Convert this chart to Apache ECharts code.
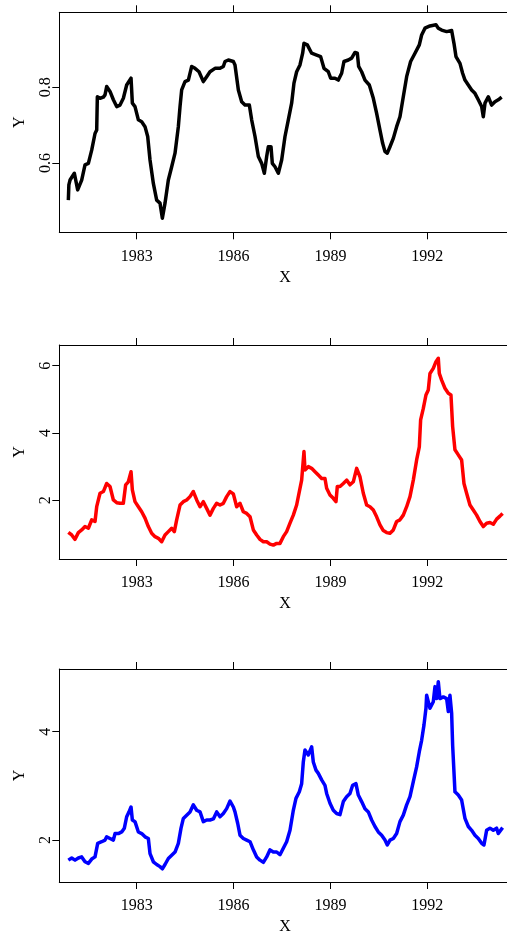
<!DOCTYPE html>
<html>
<head>
<meta charset="utf-8">
<script src="https://cdn.jsdelivr.net/npm/echarts@6/dist/echarts.min.js"></script>
<style>
html,body{margin:0;padding:0;background:#fff;overflow:hidden;}
#chart{width:540px;height:936px;}
</style>
</head>
<body>
<div id="chart"></div>
<script>
// ---- data ----
const xTicks = [1983, 1986, 1989, 1992];
const yTicks1 = [0.6, 0.8];
const yTicks2 = [2, 4, 6];
const yTicks3 = [2, 4];

const blackYears = [1980.884,1980.90,1980.936,1981.070,1981.173,1981.297,1981.400,1981.504,1981.607,1981.710,1981.762,1981.782,1981.865,1981.968,1982.020,1982.071,1982.174,1982.278,1982.381,1982.484,1982.587,1982.690,1982.825,1982.866,1982.948,1983.052,1983.155,1983.258,1983.341,1983.413,1983.516,1983.619,1983.722,1983.795,1983.877,1983.980,1984.084,1984.187,1984.290,1984.342,1984.393,1984.496,1984.600,1984.703,1984.806,1984.930,1985.064,1985.167,1985.270,1985.425,1985.580,1985.683,1985.735,1985.838,1985.993,1986.044,1986.148,1986.251,1986.354,1986.488,1986.560,1986.664,1986.767,1986.870,1986.953,1987.025,1987.076,1987.159,1987.200,1987.283,1987.386,1987.437,1987.489,1987.592,1987.695,1987.798,1987.870,1987.953,1988.056,1988.139,1988.180,1988.283,1988.417,1988.572,1988.696,1988.799,1988.933,1989.006,1989.140,1989.243,1989.346,1989.418,1989.553,1989.656,1989.759,1989.831,1989.873,1989.965,1990.069,1990.203,1990.327,1990.430,1990.533,1990.616,1990.688,1990.760,1990.843,1990.946,1991.049,1991.152,1991.255,1991.359,1991.482,1991.617,1991.751,1991.823,1991.926,1992.081,1992.267,1992.339,1992.442,1992.597,1992.752,1992.824,1992.886,1993.010,1993.092,1993.165,1993.268,1993.371,1993.474,1993.577,1993.681,1993.732,1993.784,1993.887,1993.990,1994.093,1994.196,1994.300];
const blackValues = [0.502,0.542,0.555,0.573,0.529,0.555,0.595,0.599,0.634,0.678,0.687,0.775,0.771,0.774,0.780,0.802,0.789,0.767,0.749,0.753,0.771,0.806,0.824,0.758,0.749,0.714,0.709,0.696,0.670,0.608,0.546,0.502,0.494,0.454,0.494,0.555,0.590,0.626,0.696,0.749,0.793,0.815,0.819,0.855,0.850,0.841,0.815,0.828,0.841,0.850,0.850,0.855,0.868,0.872,0.868,0.859,0.793,0.762,0.753,0.753,0.714,0.670,0.617,0.599,0.573,0.617,0.643,0.643,0.599,0.590,0.573,0.573,0.608,0.670,0.714,0.758,0.811,0.841,0.859,0.890,0.916,0.912,0.890,0.885,0.881,0.850,0.841,0.824,0.824,0.819,0.837,0.868,0.872,0.877,0.892,0.890,0.855,0.841,0.819,0.806,0.771,0.731,0.687,0.652,0.630,0.626,0.643,0.665,0.696,0.722,0.775,0.828,0.868,0.890,0.912,0.938,0.956,0.962,0.965,0.956,0.951,0.947,0.950,0.916,0.881,0.863,0.837,0.819,0.806,0.793,0.784,0.767,0.749,0.722,0.758,0.775,0.753,0.762,0.767,0.774];

const redYears = [1980.884,1980.988,1981.091,1981.194,1981.297,1981.400,1981.504,1981.607,1981.710,1981.762,1981.865,1981.968,1982.071,1982.174,1982.278,1982.381,1982.484,1982.587,1982.659,1982.742,1982.825,1982.866,1982.948,1983.052,1983.155,1983.258,1983.361,1983.464,1983.568,1983.671,1983.774,1983.877,1983.980,1984.084,1984.166,1984.238,1984.342,1984.445,1984.548,1984.651,1984.754,1984.858,1984.961,1985.064,1985.167,1985.270,1985.374,1985.477,1985.580,1985.683,1985.786,1985.890,1985.993,1986.096,1986.199,1986.302,1986.406,1986.509,1986.612,1986.715,1986.818,1986.922,1987.025,1987.128,1987.231,1987.334,1987.437,1987.540,1987.643,1987.747,1987.850,1987.953,1988.036,1988.108,1988.180,1988.211,1988.314,1988.417,1988.521,1988.624,1988.727,1988.830,1988.882,1988.985,1989.088,1989.171,1989.212,1989.295,1989.398,1989.501,1989.604,1989.707,1989.811,1989.914,1990.017,1990.120,1990.223,1990.327,1990.430,1990.533,1990.636,1990.739,1990.843,1990.946,1991.049,1991.152,1991.255,1991.359,1991.462,1991.565,1991.668,1991.751,1991.792,1991.875,1991.957,1992.029,1992.081,1992.184,1992.267,1992.339,1992.370,1992.442,1992.545,1992.649,1992.731,1992.783,1992.855,1992.958,1993.061,1993.134,1993.216,1993.319,1993.422,1993.526,1993.629,1993.732,1993.835,1993.939,1994.042,1994.145,1994.248,1994.330];
const redValues = [1.05,0.97,0.84,1.04,1.12,1.22,1.17,1.42,1.37,1.81,2.21,2.26,2.50,2.41,2.01,1.93,1.91,1.91,2.46,2.55,2.85,2.31,1.96,1.81,1.66,1.47,1.22,1.02,0.92,0.87,0.77,0.97,1.07,1.17,1.07,1.42,1.86,1.96,2.01,2.11,2.26,2.01,1.81,1.96,1.76,1.56,1.76,1.91,1.86,1.91,2.11,2.26,2.19,1.81,1.91,1.66,1.61,1.51,1.12,0.97,0.84,0.77,0.77,0.70,0.67,0.72,0.72,0.92,1.07,1.32,1.56,1.86,2.26,2.60,3.45,2.90,3.00,2.95,2.85,2.75,2.65,2.65,2.36,2.16,2.06,1.96,2.41,2.41,2.50,2.60,2.46,2.55,2.95,2.70,2.21,1.86,1.81,1.71,1.51,1.27,1.10,1.04,1.02,1.12,1.37,1.42,1.56,1.81,2.11,2.60,3.20,3.59,4.39,4.73,5.13,5.28,5.77,5.92,6.12,6.22,5.77,5.57,5.33,5.18,5.13,4.19,3.50,3.35,3.20,2.50,2.21,1.86,1.71,1.56,1.37,1.22,1.32,1.34,1.29,1.44,1.53,1.61];

const blueYears = [1980.884,1980.988,1981.091,1981.194,1981.297,1981.400,1981.504,1981.607,1981.710,1981.793,1981.916,1982.020,1982.071,1982.174,1982.278,1982.329,1982.432,1982.536,1982.618,1982.690,1982.763,1982.825,1982.866,1982.948,1983.052,1983.155,1983.258,1983.361,1983.413,1983.516,1983.619,1983.722,1983.795,1983.877,1983.980,1984.084,1984.187,1984.290,1984.373,1984.445,1984.548,1984.651,1984.754,1984.858,1984.961,1985.064,1985.167,1985.270,1985.374,1985.477,1985.580,1985.683,1985.786,1985.890,1985.993,1986.044,1986.127,1986.199,1986.302,1986.406,1986.509,1986.612,1986.715,1986.818,1986.922,1987.025,1987.128,1987.231,1987.334,1987.437,1987.540,1987.643,1987.747,1987.850,1987.932,1988.036,1988.108,1988.159,1988.211,1988.314,1988.417,1988.469,1988.552,1988.624,1988.727,1988.830,1988.882,1988.985,1989.088,1989.191,1989.295,1989.398,1989.501,1989.604,1989.687,1989.790,1989.862,1989.965,1990.069,1990.172,1990.275,1990.378,1990.481,1990.585,1990.688,1990.760,1990.843,1990.946,1991.049,1991.152,1991.255,1991.359,1991.462,1991.565,1991.668,1991.751,1991.823,1991.895,1991.957,1991.978,1992.081,1992.184,1992.236,1992.287,1992.339,1992.390,1992.494,1992.597,1992.649,1992.700,1992.752,1992.783,1992.855,1992.958,1993.061,1993.165,1993.268,1993.371,1993.474,1993.577,1993.681,1993.753,1993.835,1993.939,1994.042,1994.145,1994.196,1994.330];
const blueValues = [1.63,1.67,1.63,1.67,1.69,1.60,1.57,1.65,1.69,1.94,1.97,2.00,2.06,2.03,2.00,2.12,2.12,2.15,2.22,2.43,2.52,2.61,2.37,2.34,2.15,2.12,2.06,2.03,1.75,1.60,1.55,1.51,1.47,1.55,1.66,1.72,1.78,1.94,2.22,2.40,2.46,2.52,2.65,2.55,2.52,2.34,2.37,2.37,2.39,2.52,2.43,2.49,2.58,2.72,2.61,2.52,2.31,2.09,2.03,2.00,1.97,1.82,1.69,1.63,1.59,1.69,1.82,1.78,1.78,1.73,1.85,1.97,2.18,2.55,2.77,2.89,3.04,3.44,3.66,3.57,3.72,3.44,3.29,3.23,3.11,3.01,2.86,2.68,2.55,2.49,2.47,2.71,2.80,2.86,3.01,3.04,2.83,2.71,2.58,2.52,2.37,2.25,2.15,2.09,2.00,1.91,2.00,2.03,2.12,2.34,2.46,2.65,2.80,3.08,3.35,3.63,3.84,4.12,4.43,4.67,4.43,4.55,4.83,4.61,4.92,4.61,4.64,4.61,4.37,4.67,4.34,3.75,2.89,2.83,2.74,2.40,2.25,2.18,2.09,2.03,1.94,1.91,2.18,2.22,2.18,2.22,2.12,2.23];

// ---- layout / styling ----
const FONT = 'Liberation Serif';
const panels = [
  {top: 12.3, height: 220, yMin: 0.417, yMax: 0.998, ticks: yTicks1, years: blackYears, vals: blackValues, color: '#000000', fmt: v => v.toFixed(1)},
  {top: 345, height: 214, yMin: 0.256, yMax: 6.615, ticks: yTicks2, years: redYears, vals: redValues, color: '#ff0000', fmt: v => String(v)},
  {top: 669, height: 213.3, yMin: 1.227, yMax: 5.155, ticks: yTicks3, years: blueYears, vals: blueValues, color: '#0000ff', fmt: v => String(v)}
];
const X_MIN = 1980.604, X_MAX = 1994.59;
const axisLine = {show: true, lineStyle: {color: '#000', width: 1}};
const tickStyle = {color: '#000', width: 1};

const grid = [], xAxis = [], yAxis = [], series = [];
panels.forEach((p, i) => {
  grid.push({left: 59.3, right: 29, top: p.top, height: p.height, containLabel: false});
  // bottom x axis
  xAxis.push({
    type: 'value', gridIndex: i, position: 'bottom', min: X_MIN, max: X_MAX,
    splitLine: {show: false}, axisLine: axisLine,
    axisTick: {show: true, inside: false, length: 7, lineStyle: tickStyle, customValues: xTicks},
    axisLabel: {show: true, customValues: xTicks, margin: 16, color: '#000', fontFamily: FONT, fontSize: 16, formatter: v => String(v)},
    name: 'X', nameLocation: 'middle', nameGap: 37,
    nameTextStyle: {color: '#000', fontFamily: FONT, fontSize: 16}
  });
  // top x axis (ticks only)
  xAxis.push({
    type: 'value', gridIndex: i, position: 'top', min: X_MIN, max: X_MAX,
    splitLine: {show: false}, axisLine: axisLine,
    axisTick: {show: true, inside: false, length: 7, lineStyle: tickStyle, customValues: xTicks},
    axisLabel: {show: false}
  });
  // left y axis
  yAxis.push({
    type: 'value', gridIndex: i, position: 'left', min: p.yMin, max: p.yMax,
    splitLine: {show: false}, axisLine: axisLine,
    axisTick: {show: true, inside: false, length: 7, lineStyle: tickStyle, customValues: p.ticks},
    axisLabel: {show: true, customValues: p.ticks, rotate: 90, margin: 6, color: '#000', fontFamily: FONT, fontSize: 16, formatter: p.fmt},
    name: 'Y', nameLocation: 'middle', nameGap: 32, nameRotate: 90,
    nameTextStyle: {color: '#000', fontFamily: FONT, fontSize: 16}
  });
  // right y axis (box edge)
  yAxis.push({
    type: 'value', gridIndex: i, position: 'right', min: p.yMin, max: p.yMax,
    splitLine: {show: false}, axisLine: axisLine, axisTick: {show: false}, axisLabel: {show: false}
  });
  series.push({
    type: 'line', xAxisIndex: 2 * i, yAxisIndex: 2 * i,
    data: p.years.map((y, k) => [y, p.vals[k]]),
    showSymbol: false, symbol: 'none', clip: true,
    lineStyle: {color: p.color, width: 3.5, join: 'round'},
    itemStyle: {color: p.color}
  });
});

const chart = echarts.init(document.getElementById('chart'), null, {renderer: 'canvas'});
chart.setOption({animation: false, backgroundColor: '#fff', grid, xAxis, yAxis, series});
</script>
</body>
</html>
